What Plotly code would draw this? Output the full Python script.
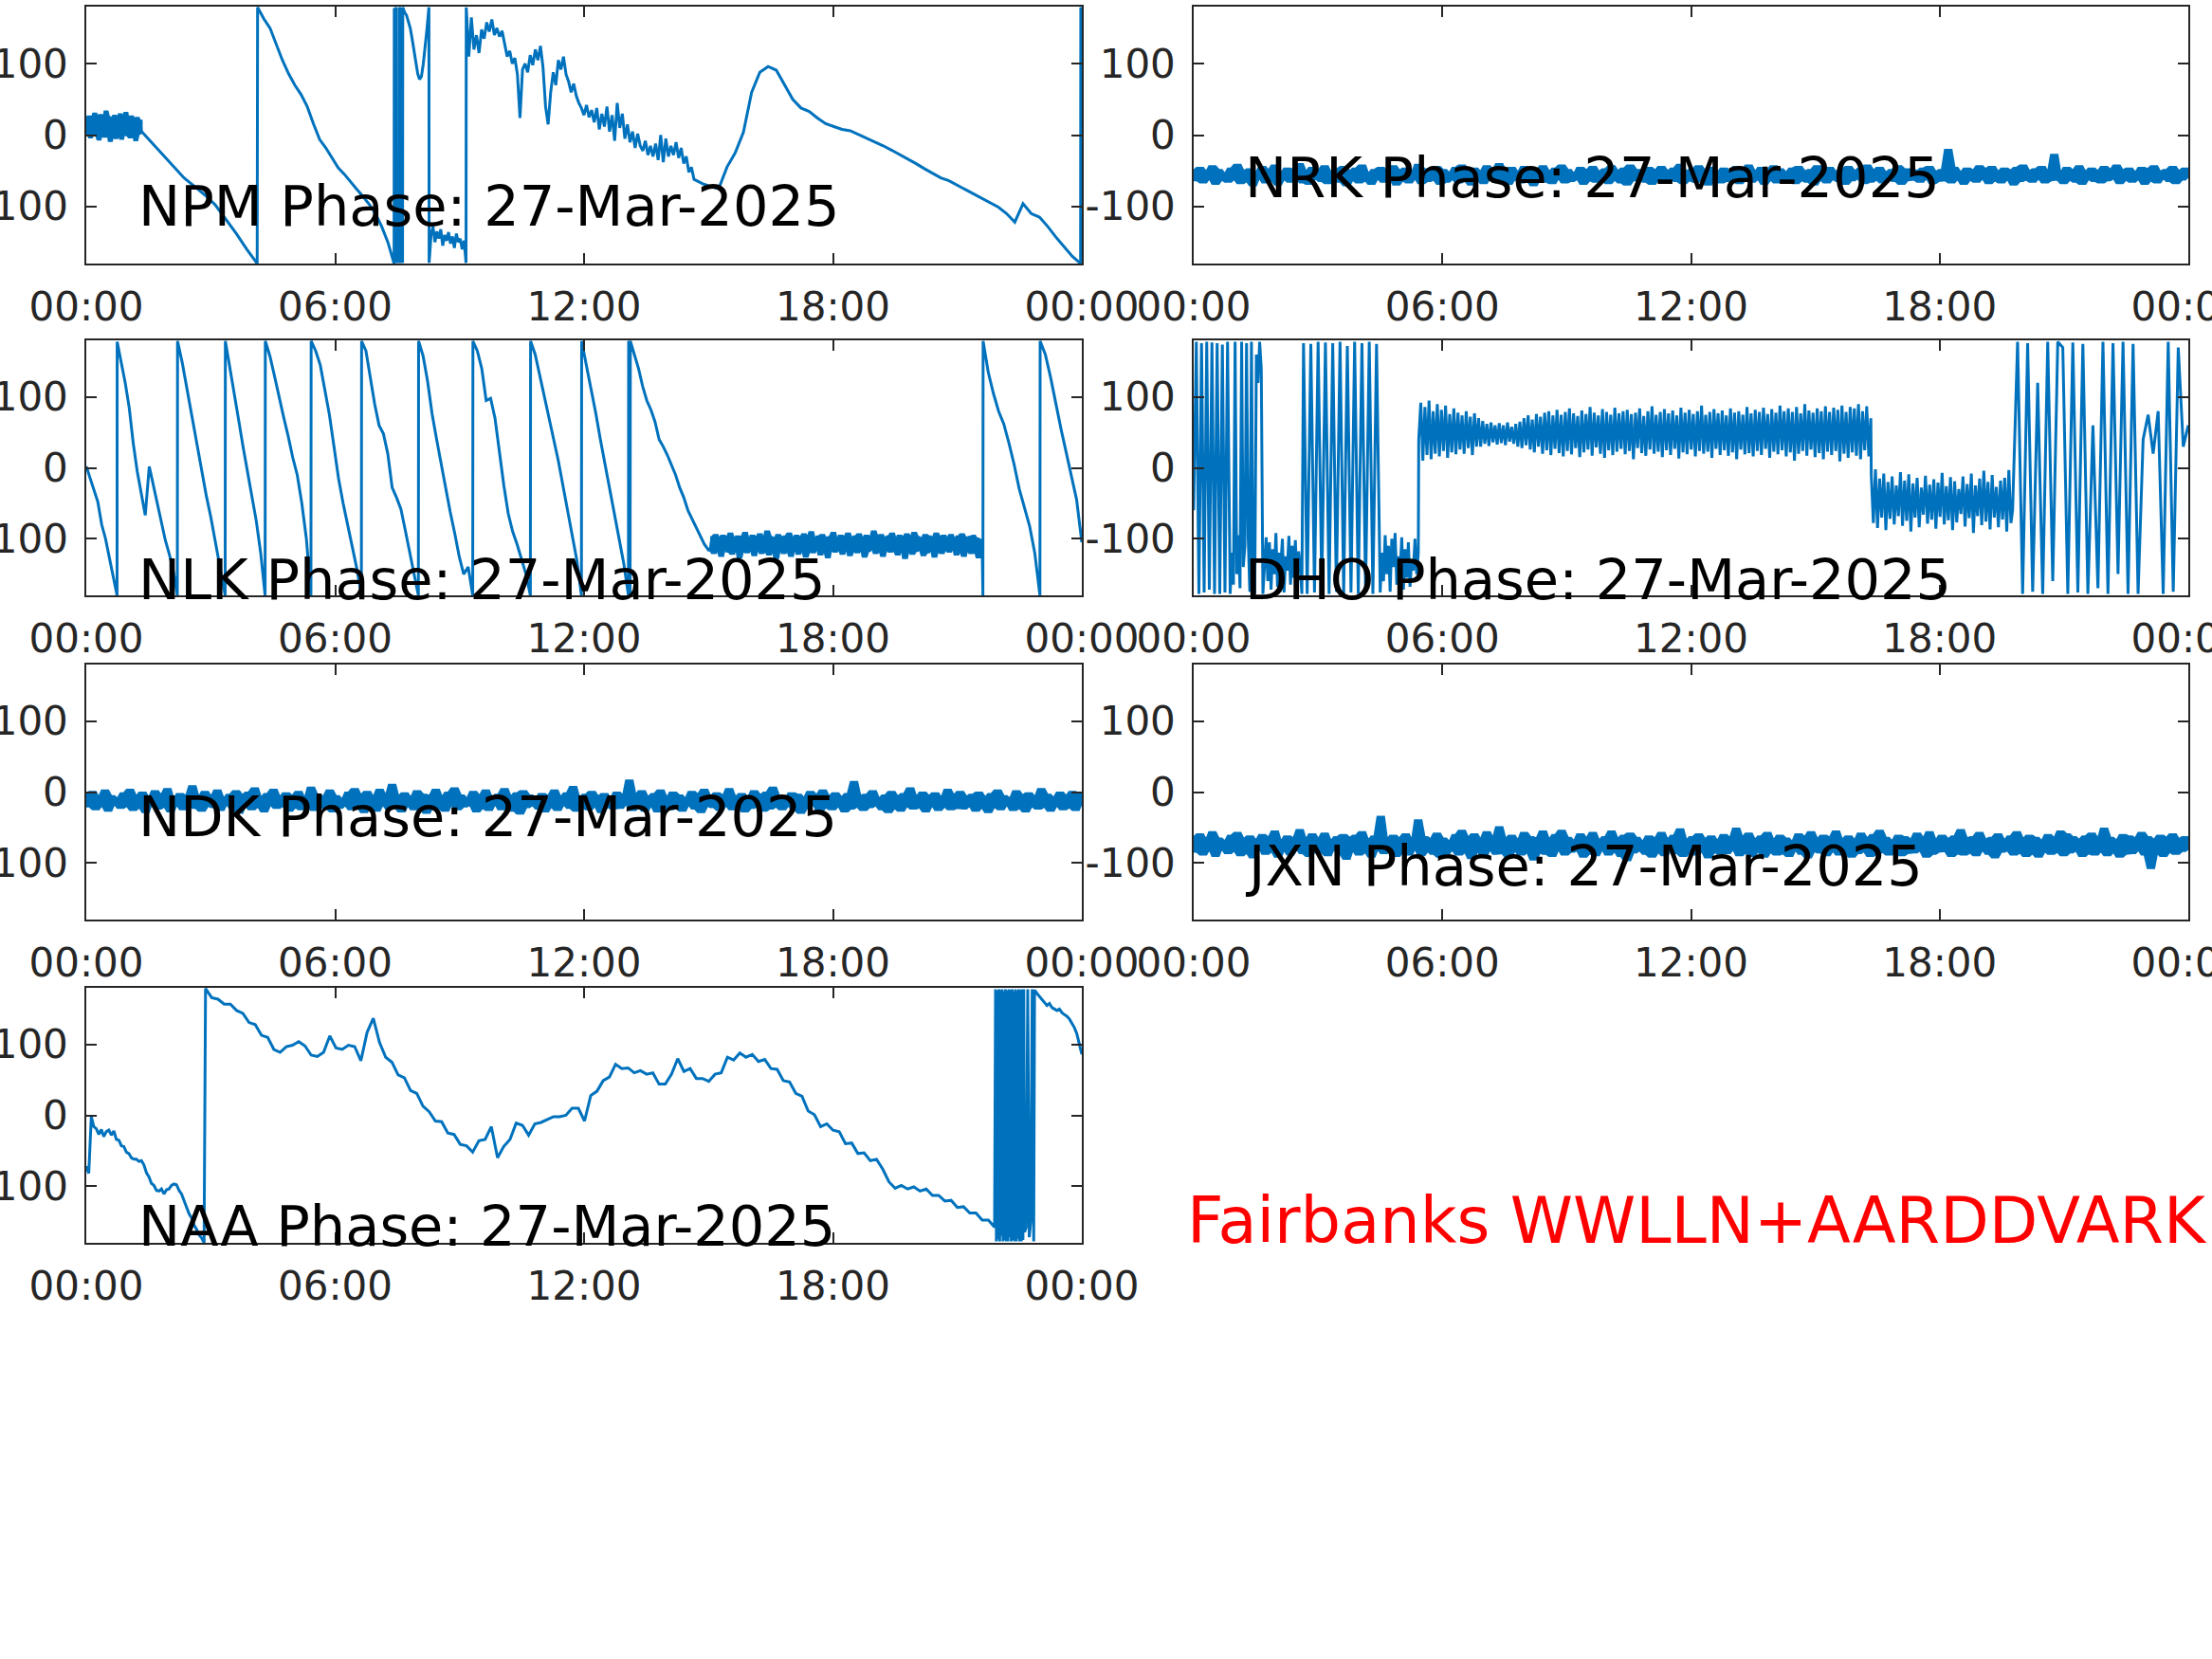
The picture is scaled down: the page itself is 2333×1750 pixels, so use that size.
import plotly.graph_objects as go

# ---------------- data ----------------
TICK_HOURS = [0, 6, 12, 18, 24]
TICK_LABELS = ["00:00", "06:00", "12:00", "18:00", "00:00"]
PHASE_TICKS = [-100, 0, 100]
PHASE_TICK_LABELS = ["-100", "0", "100"]
PHASE_RANGE = [-180, 180]
DATE_LABEL = "27-Mar-2025"
FOOTER = "Fairbanks WWLLN+AARDDVARK"

# Each station: segments (start hour, end hour, phase samples evenly spaced in between)
NPM_SEG_START = [0.0, 1.35, 4.13, 7.425, 7.475, 7.545, 7.585, 7.63, 8.265, 9.16, 14.85, 23.975]
NPM_SEG_END = [1.33, 4.12, 7.42, 7.47, 7.54, 7.58, 7.625, 8.26, 9.155, 14.65, 23.97, 24.0]
NPM_SEG_PHASE = [
    [20, 2, 26, -3, 24, 5, 30, 0, 22, -6, 28, 4, 18, -2, 33, 6, 25, -8, 21, 1,
     27, -4, 19, 3, 29, -5, 23, 7, 31, 0, 17, -3, 26, 5, 22, -7, 24, 2, 20, 4],
    [4, -12, -27, -44, -60, -72, -84, -98, -118, -138, -160, -180],
    [179, 163, 150, 128, 105, 86, 70, 57, 40, 16, -6, -18, -32, -46, -55, -66, -76, -86, -97, -110,
     -128, -150, -180],
    [178, 166, 176, 179],
    [-179, -168, -174, -179],
    [179, 172, 179],
    [-179, -170, -179],
    [179, 172, 168, 160, 150, 135, 118, 100, 86, 78, 82, 100, 122, 150, 179],
    [-179, -140, -128, -150, -135, -145, -132, -155, -140, -148, -136, -152, -142, -158, -138, -150,
     -145, -160, -148, -179],
    [179, 110, 165, 120, 140, 115, 148, 135, 158, 145, 162, 140, 150, 138, 146, 128, 110, 118, 100, 108,
     85, 24, 92, 100, 88, 112, 98, 120, 105, 125, 95, 40, 15, 60, 88, 70, 105, 92, 110, 85,
     75, 60, 72, 55, 45, 38, 28, 42, 25, 35, 18, 38, 8, 30, 12, 40, 5, 28, -8, 45,
     10, 30, -5, 15, -10, 5, -18, 2, -15, -22, -8, -28, -15, -30, -12, -35, 0, -38, -5, -30,
     -15, -28, -10, -32, -18, -40, -30, -52, -45, -62],
    [-68, -72, -75, -45, -25, 4, 60, 88, 96, 91, 70, 50, 38, 33, 24, 16, 12, 8, 6, 1,
     -4, -10, -15, -21, -27, -33, -40, -47, -54, -60, -64, -70, -76, -82, -88, -94, -101, -110, -122, -96,
     -110, -115, -128, -143, -157, -170, -180],
    [179, 176],
]

NRK_PHASE = [
    -50, -63, -46, -66, -52, -60, -44, -68, -49, -62, -55, -65, -47, -61, -42, -67, -51, -64, -48, -70,
    -53, -59, -45, -66, -50, -63, -43, -69, -54, -61, -47, -65, -49, -62, -41, -66, -52, -68, -46, -60,
    -50, -64, -44, -67, -53, -61, -48, -65, -45, -70, -51, -62, -47, -66, -43, -63, -55, -68, -49, -60,
    -46, -65, -52, -61, -44, -69, -50, -63, -47, -66, -53, -60, -42, -67, -48, -64, -51, -62, -45, -68,
    -49, -65, -54, -61, -46, -66, -43, -63, -50, -69, -47, -62, -52, -67, -44, -60, -49, -65, -41, -64,
    -51, -68, -46, -61, -53, -66, -45, -63, -48, -70, -50, -62, -44, -65, -52, -67, -47, -60, -43, -66,
    -49, -64, -55, -61, -46, -68, -50, -63, -45, -65, -52, -60, -48, -67, -44, -62, -51, -66, -47, -69,
    -43, -63, -49, -61, -53, -65, -46, -68, -50, -62, -45, -66, -51, -60, -47, -64, -42, -67, -52, -63,
    -48, -65, -44, -61, -50, -69, -46, -62, -53, -66, -47, -64, -51, -60, -45, -67, -49, -63, -43, -65,
    -52, -61, -46, -68, -50, -62, -44, -66, -48, -64, -53, -60, -47, -67, -45, -63, -51, -65, -49, -69,
    -44, -62, -50, -66, -46, -61, -52, -64, -48, -68, -45, -63, -51, -60, -47, -67, -43, -65, -50, -62,
    -46, -66, -53, -61, -49, -64, -44, -68, -48, -63, -48, -62, -51, -65, -47, -60, -45, -67, -52, -64,
    -49, -63, -21, -66, -46, -61, -53, -68, -47, -62, -50, -65, -44, -60, -48, -67, -45, -63, -52, -66,
    -47, -61, -50, -69, -46, -64, -43, -62, -51, -65, -48, -60, -45, -66, -53, -63, -28, -62, -55, -67,
    -46, -62, -50, -65, -44, -68, -52, -61, -47, -64, -51, -66, -45, -63, -49, -60, -43, -67, -50, -62,
    -47, -65, -53, -61, -46, -68, -48, -63, -44, -66, -52, -60, -49, -64, -45, -67, -51, -62, -47, -58,
]

NLK_SEG_START = [0.0, 0.745, 2.2, 3.353, 4.316, 5.421, 6.637, 8.011, 9.321, 10.711, 11.942,
                 13.075, 13.095, 13.116, 15.04, 21.615, 21.62, 22.995]
NLK_SEG_END = [0.742, 2.195, 3.348, 4.311, 5.416, 6.632, 8.006, 9.316, 10.706, 11.937, 13.07,
               13.09, 13.11, 15.0, 21.60, 21.615, 22.99, 24.0]
NLK_SEG_PHASE = [
    [2, -15, -31, -48, -80, -100, -127, -155, -180],
    [178, 150, 120, 85, 35, -5, -35, -67, 2, -25, -50, -78, -102, -122, -145, -180],
    [179, 148, 110, 75, 38, 0, -38, -70, -105, -140, -180],
    [179, 140, 105, 68, 30, -5, -40, -75, -120, -180],
    [179, 158, 130, 100, 72, 45, 15, -10, -50, -100, -180],
    [179, 165, 145, 112, 75, 30, -15, -50, -82, -110, -142, -180],
    [179, 165, 128, 90, 60, 48, 20, -28, -42, -58, -88, -118, -150, -180],
    [179, 158, 122, 76, 40, 5, -28, -62, -92, -125, -150, -140, -180],
    [179, 165, 140, 95, 98, 70, 20, -25, -65, -90, -108, -128, -150, -180],
    [179, 160, 130, 100, 70, 40, 10, -25, -60, -95, -130, -180],
    [179, 145, 112, 78, 40, 5, -30, -65, -95, -135, -180],
    [179, 176],
    [-179, -176],
    [179, 160, 140, 115, 95, 82, 65, 40, 30, 18, 4, -10, -28, -42, -60, -72, -84, -96, -108, -116],
    [-116, -98, -120, -95, -114, -101, -124, -96, -112, -100, -118, -93, -121, -102, -110, -97, -126, -99, -115, -92,
     -119, -104, -113, -96, -123, -100, -111, -94, -120, -103, -117, -90, -122, -98, -114, -101, -127, -95, -112, -99,
     -120, -97, -116, -93, -124, -102, -110, -96, -121, -100, -113, -94, -125, -99, -117, -91, -119, -103, -111, -97,
     -122, -95, -115, -100, -126, -98, -112, -92, -118, -104, -114, -96, -121, -99, -110, -93, -123, -101, -116, -97,
     -119, -94, -113, -102, -125, -96, -117, -100, -111, -90, -120, -98, -115, -95, -124, -101, -112, -97, -118, -93,
     -116, -103, -122, -96, -111, -99, -127, -94, -114, -100, -121, -92, -117, -98, -113, -102, -123, -95, -119, -97,
     -112, -100, -125, -93, -115, -99, -120, -96, -114, -101, -118, -95, -111, -103, -122, -97, -116, -94, -124, -99,
     -113, -98, -120, -96, -117, -100, -126, -102, -121],
    [-180],
    [179, 135, 105, 80, 62, 35, 5, -30, -55, -82, -120, -180],
    [179, 160, 128, 90, 55, 22, -10, -45, -105],
]

DHO_SEG_START = [0.0, 0.92, 1.71, 2.65, 4.54, 5.43, 16.35, 19.76]
DHO_SEG_END = [0.88, 1.67, 2.61, 4.5, 5.42, 16.34, 19.72, 24.0]
DHO_SEG_PHASE = [
    [-60, 178, -178, 176, -176, 178, -172, 177, -178, 176, -178, 174, -176, 178, -178],
    [-120, -165, 178, -150, -95, -170, 178, -140, -110, 176, -98, -175, 178, -150, -178, 160, 120, 178, 140, -178],
    [-130, -98, -160, -105, -172, -115, -150, -92, -168, -120, -140, -100, -176, -125, -145, -96, -165, -110,
     -155, -102, -170, -118, -140, -178],
    [176, -178, 175, -176, 178, -170, 177, -178, 176, -175, 178, -178, 172, -176, 178, -178, 176, -174,
     178, -178, 175, -176],
    [-120, -160, -95, -150, -110, -175, -100, -140, -92, -165, -125, -148, -98, -172, -115, -155, -105, -168,
     -130, -145, -100, -150, -120],
    [40, 92, 10, 86, 18, 95, 12, 80, 20, 90, 16, 82, 24, 88, 14, 76, 22, 84, 19, 78,
     26, 74, 20, 80, 28, 72, 18, 77, 30, 70, 30, 66, 34, 62, 31, 64, 36, 60, 33, 63,
     35, 60, 32, 64, 37, 58, 34, 62, 30, 65, 28, 70, 32, 74, 26, 68, 22, 76, 30, 72,
     20, 78, 25, 80, 18, 74, 27, 82, 21, 75, 16, 79, 24, 84, 19, 77, 28, 73, 15, 81,
     22, 76, 26, 86, 17, 78, 29, 74, 20, 83, 14, 79, 25, 75, 18, 85, 23, 77, 27, 80,
     19, 82, 24, 76, 12, 78, 28, 84, 21, 73, 17, 80, 26, 87, 20, 75, 23, 79, 15, 83,
     25, 77, 18, 81, 27, 74, 13, 85, 22, 78, 19, 82, 26, 76, 16, 80, 24, 88, 20, 75,
     23, 79, 14, 83, 27, 77, 18, 81, 25, 74, 17, 84, 22, 78, 12, 80, 26, 75, 19, 86,
     21, 77, 16, 82, 24, 79, 18, 85, 27, 76, 14, 83, 23, 78, 19, 88, 25, 80, 16, 84,
     22, 79, 10, 86, 20, 77, 24, 90, 17, 81, 26, 78, 15, 84, 21, 80, 12, 87, 23, 79,
     18, 85, 24, 82, 9, 88, 20, 79, 14, 86, 22, 84, 17, 90, 12, 80, 25, 87, 16, 70],
    [-10, -78, -2, -85, -15, -70, -8, -88, -20, -72, -12, -80, -25, -68, -6, -82, -18, -75, -9, -90,
     -22, -70, -14, -84, -28, -66, -11, -79, -24, -73, -16, -86, -21, -69, -7, -80, -26, -74, -13, -88,
     -19, -77, -30, -65, -12, -83, -23, -71, -8, -92, -25, -68, -15, -81, -4, -76, -20, -87, -10, -70,
     -27, -84, -18, -73, -14, -90, -3, -78],
    [-60, 178, -178, 176, -175, 120, -178, 178, -160, 178, 170, -178, 177, -176, 175, -178, 60, -170,
     178, -178, 176, -150, 178, -178, 175, -178, 40, 75, 20, 80, -178, 178, -175, 170, 30, 60],
]

NDK_PHASE = [
    -4, -20, 0, -24, -8, -18, 2, -26, -6, -16, -10, -22, -2, -19, 3, -25, -7, -21, -1, -28,
    -9, -15, 1, -23, -5, -20, 4, -27, -11, -17, -3, -24, -6, -18, 8, -22, -8, -26, 0, -19,
    -7, -21, 2, -25, -10, -16, -4, -23, 1, -29, -5, -18, -1, -24, 5, -20, -9, -27, -3, -17,
    3, -22, -8, -19, -2, -26, -6, -21, 0, -24, -10, -16, 6, -25, -4, -20, -7, -23, 2, -27,
    -6, -22, -11, -18, -1, -24, 4, -21, -5, -28, 0, -19, -8, -26, 3, -17, -6, -23, 10, -22,
    -7, -27, -2, -18, -9, -24, 1, -20, -4, -29, -6, -21, 3, -23, -8, -26, -1, -17, 5, -24,
    -5, -20, -10, -18, 0, -27, -6, -22, 2, -25, -9, -16, -4, -24, 4, -19, -7, -26, -2, -30,
    1, -21, -5, -18, -11, -23, -3, -27, -6, -20, 2, -25, -8, -17, -2, -22, 7, -26, -9, -21,
    -4, -24, 0, -19, -7, -28, -3, -20, -10, -23, -1, -22, -6, -16, 16, -25, -5, -21, 1, -26,
    -8, -18, -3, -27, 2, -20, -9, -24, -1, -22, -5, -26, -10, -17, 0, -23, -4, -28, 3, -19,
    -7, -21, -2, -25, -6, -18, 4, -24, -8, -20, -3, -27, -9, -22, 1, -19, -5, -26, -1, -23,
    6, -20, -6, -24, -11, -18, -2, -25, -4, -29, -9, -22, 0, -17, -5, -26, 2, -21, -7, -24,
    -2, -19, -8, -27, -3, -23, 14, -20, -6, -25, -4, -21, 1, -18, -10, -24, -5, -28, 0, -22,
    -7, -26, -3, -19, 5, -23, -8, -21, -1, -27, -6, -18, -2, -25, -9, -20, 3, -24, -5, -22,
    0, -23, -7, -19, -4, -26, -1, -21, -8, -28, -3, -20, 2, -24, -6, -17, -10, -25, 1, -22,
    -5, -27, -2, -19, -8, -23, 4, -20, -4, -26, -9, -18, -1, -24, -6, -21, 0, -25, -3, -15,
]

JXN_PHASE = [
    -64, -84, -60, -88, -68, -80, -57, -90, -66, -79, -70, -86, -62, -82, -58, -89, -67, -85, -63, -92,
    -69, -78, -61, -87, -65, -83, -56, -91, -71, -81, -63, -88, -66, -80, -54, -86, -68, -90, -60, -82,
    -67, -85, -59, -89, -70, -79, -64, -87, -61, -94, -65, -81, -62, -88, -57, -84, -69, -91, -63, -80,
    -35, -86, -68, -82, -62, -90, -66, -85, -60, -88, -70, -79, -40, -89, -64, -83, -67, -87, -59, -91,
    -66, -86, -71, -81, -61, -88, -55, -84, -65, -93, -60, -82, -68, -90, -57, -80, -66, -87, -50, -86,
    -67, -92, -62, -81, -69, -88, -58, -84, -64, -95, -66, -85, -56, -87, -68, -90, -61, -80, -55, -88,
    -65, -84, -70, -82, -60, -91, -66, -86, -58, -89, -69, -80, -64, -88, -56, -83, -67, -90, -62, -96,
    -59, -85, -65, -82, -71, -87, -63, -91, -66, -84, -58, -89, -68, -81, -62, -86, -53, -90, -69, -85,
    -64, -88, -60, -83, -67, -92, -63, -84, -70, -87, -61, -86, -66, -80, -52, -89, -65, -85, -59, -90,
    -68, -82, -63, -91, -58, -84, -69, -88, -62, -86, -66, -90, -71, -81, -60, -87, -64, -92, -57, -83,
    -67, -85, -62, -89, -65, -82, -56, -88, -68, -84, -63, -91, -69, -86, -59, -83, -66, -90, -61, -87,
    -55, -84, -65, -88, -70, -81, -62, -89, -64, -86, -68, -85, -59, -82, -66, -91, -57, -87, -69, -84,
    -62, -83, -67, -90, -63, -86, -54, -88, -66, -85, -64, -89, -58, -81, -68, -87, -65, -92, -60, -84,
    -69, -82, -63, -88, -57, -85, -67, -90, -62, -86, -65, -91, -70, -83, -61, -87, -66, -84, -56, -89,
    -60, -85, -64, -82, -68, -90, -63, -86, -59, -88, -67, -83, -52, -89, -65, -84, -69, -91, -61, -87,
    -63, -86, -66, -81, -58, -88, -64, -107, -68, -85, -62, -90, -65, -84, -60, -87, -67, -83, -64, -80,
]

NAA_SEG_START = [0.0, 2.875, 21.92, 22.66, 22.86]
NAA_SEG_END = [2.84, 21.897, 22.62, 22.84, 24.0]
NAA_SEG_PHASE = [
    [-72, -82, -2, -16, -19, -27, -20, -30, -23, -21, -28, -22, -34, -35, -43, -44, -52, -54, -60, -62,
     -62, -65, -64, -70, -81, -87, -96, -99, -106, -107, -104, -111, -105, -104, -99, -97, -98, -106, -111, -121,
     -129, -139, -145, -155, -161, -169, -173, -180],
    [179, 166, 164, 157, 157, 148, 144, 131, 128, 113, 110, 93, 89, 97, 99, 104, 98, 85, 83, 89,
     112, 95, 93, 99, 97, 77, 117, 137, 103, 82, 75, 57, 53, 35, 31, 13, 5, -8, -9, -25,
     -27, -41, -43, -52, -36, -34, -16, -60, -44, -34, -11, -14, -28, -12, -10, -6, -2, -2, 0, 10,
     10, -8, 28, 34, 49, 54, 72, 66, 67, 60, 63, 58, 60, 44, 44, 58, 80, 62, 66, 52,
     52, 48, 58, 60, 82, 78, 88, 82, 86, 76, 79, 66, 65, 49, 47, 31, 27, 6, 1, -16,
     -12, -21, -23, -40, -39, -54, -53, -64, -62, -76, -94, -103, -99, -104, -101, -107, -104, -113, -113, -121,
     -120, -130, -129, -138, -138, -148, -148, -158],
    [178, -178, 176, -175, 178, -178, 177, -170, 178, -178, 175, -176, 178, -178, 176, -178, 178, -172,
     177, -178, 178, -176, 175, -178, 178, -178, 176, -174, 178, -178, 177, -178, 178, -176, 178, -165],
    [-158, 178, -172, -150, 178, -178],
    [177, 172, 168, 163, 160, 155, 158, 152, 150, 148, 150, 145, 142, 140, 136, 130, 124, 115, 100, 86],
]

# segments whose dense noise is drawn as a solid band (local min/max envelope of the samples)
NPM_BAND_SEGMENTS = [0]
NRK_BAND_SEGMENTS = [0]
NLK_BAND_SEGMENTS = [14]
NDK_BAND_SEGMENTS = [0]
JXN_BAND_SEGMENTS = [0]


def segment_times(t0, t1, n):
    step = (t1 - t0) / (n - 1) if n > 1 else 0.0
    return [t0 + i * step for i in range(n)]


def build_series(starts, ends, phases):
    hours, values = [], []
    for t0, t1, vals in zip(starts, ends, phases):
        hours.extend(segment_times(t0, t1, len(vals)))
        values.extend(vals)
    return hours, values


def build_bands(starts, ends, phases, band_idx, half=1):
    bands = []
    for s in band_idx:
        v = phases[s]
        h = segment_times(starts[s], ends[s], len(v))
        up, lo = [], []
        for i in range(len(v)):
            win = v[max(0, i - half): i + half + 1]
            up.append(max(win))
            lo.append(min(win))
        bands.append((h + h[::-1], up + lo[::-1]))
    return bands


STATION_DATA = {
    "NPM": (NPM_SEG_START, NPM_SEG_END, NPM_SEG_PHASE, NPM_BAND_SEGMENTS),
    "NRK": ([0.0], [24.0], [NRK_PHASE], NRK_BAND_SEGMENTS),
    "NLK": (NLK_SEG_START, NLK_SEG_END, NLK_SEG_PHASE, NLK_BAND_SEGMENTS),
    "DHO": (DHO_SEG_START, DHO_SEG_END, DHO_SEG_PHASE, []),
    "NDK": ([0.0], [24.0], [NDK_PHASE], NDK_BAND_SEGMENTS),
    "JXN": ([0.0], [24.0], [JXN_PHASE], JXN_BAND_SEGMENTS),
    "NAA": (NAA_SEG_START, NAA_SEG_END, NAA_SEG_PHASE, []),
}
STATIONS = ["NPM", "NRK", "NLK", "DHO", "NDK", "JXN", "NAA"]

# ---------------- layout ----------------
W, H = 2333, 1750
COL_X = [(91, 1141), (1259, 2308)]
ROW_Y = [(7, 278), (359, 628), (701, 970), (1042, 1311)]
TITLE_Y = {"NPM": -100, "NRK": -60, "NLK": -158, "DHO": -158, "NDK": -35, "JXN": -105, "NAA": -156}
LINE_COLOR = "#0072BD"
AX_COLOR = "#262626"
FONT = "DejaVu Sans, Liberation Sans, sans-serif"

fig = go.Figure()
layout = dict(
    width=W, height=H, margin=dict(l=0, r=0, t=0, b=0, autoexpand=False),
    paper_bgcolor="white", plot_bgcolor="white", showlegend=False,
    font=dict(family=FONT, color=AX_COLOR),
)
annotations = []
for k, name in enumerate(STATIONS):
    row, col = divmod(k, 2)
    idx = k + 1
    xa = "xaxis" if idx == 1 else f"xaxis{idx}"
    ya = "yaxis" if idx == 1 else f"yaxis{idx}"
    xr = "x" if idx == 1 else f"x{idx}"
    yr = "y" if idx == 1 else f"y{idx}"
    x0, x1 = COL_X[col]
    y0, y1 = ROW_Y[row]
    starts, ends, phases, band_idx = STATION_DATA[name]
    for bx, by in build_bands(starts, ends, phases, band_idx):
        fig.add_trace(go.Scatter(x=bx, y=by, mode="lines", fill="toself", fillcolor=LINE_COLOR,
                                 line=dict(color=LINE_COLOR, width=2.5), xaxis=xr, yaxis=yr,
                                 hoverinfo="skip"))
    hours, values = build_series(starts, ends, phases)
    fig.add_trace(go.Scatter(x=hours, y=values, mode="lines", xaxis=xr, yaxis=yr,
                             line=dict(color=LINE_COLOR, width=3), hoverinfo="skip"))
    layout[xa] = dict(
        domain=[x0 / W, x1 / W], anchor=yr, range=[0, 24], automargin=False,
        tickmode="array", tickvals=TICK_HOURS, ticktext=TICK_LABELS, ticklabeloverflow="allow",
        ticks="inside", ticklen=11, tickwidth=1.5, tickcolor=AX_COLOR,
        showline=True, linewidth=1.5, linecolor=AX_COLOR, mirror="ticks",
        showgrid=False, zeroline=False,
        tickfont=dict(family=FONT, size=42, color=AX_COLOR), ticklabelstandoff=8,
    )
    layout[ya] = dict(
        domain=[1 - y1 / H, 1 - y0 / H], anchor=xr, range=PHASE_RANGE, automargin=False,
        tickmode="array", tickvals=PHASE_TICKS, ticktext=PHASE_TICK_LABELS, ticklabeloverflow="allow",
        ticks="inside", ticklen=11, tickwidth=1.5, tickcolor=AX_COLOR,
        showline=True, linewidth=1.5, linecolor=AX_COLOR, mirror="ticks",
        showgrid=False, zeroline=False,
        tickfont=dict(family=FONT, size=42, color=AX_COLOR), ticklabelstandoff=9,
    )
    annotations.append(dict(
        x=1.2, y=TITLE_Y[name], xref=xr, yref=yr, xanchor="left", yanchor="middle",
        text=f"{name} Phase: {DATE_LABEL}", showarrow=False,
        font=dict(family=FONT, size=59, color="black"),
    ))

annotations.append(dict(
    x=1250 / W, y=1 - 1288 / H, xref="paper", yref="paper", xanchor="left", yanchor="middle",
    text=FOOTER, showarrow=False, font=dict(family=FONT, size=67, color="#FF0000"),
))
layout["annotations"] = annotations
fig.update_layout(**layout)

fig.write_html("out.html", config={"displayModeBar": False},
               post_script="document.body.style.margin='0';document.body.style.overflow='hidden';")
